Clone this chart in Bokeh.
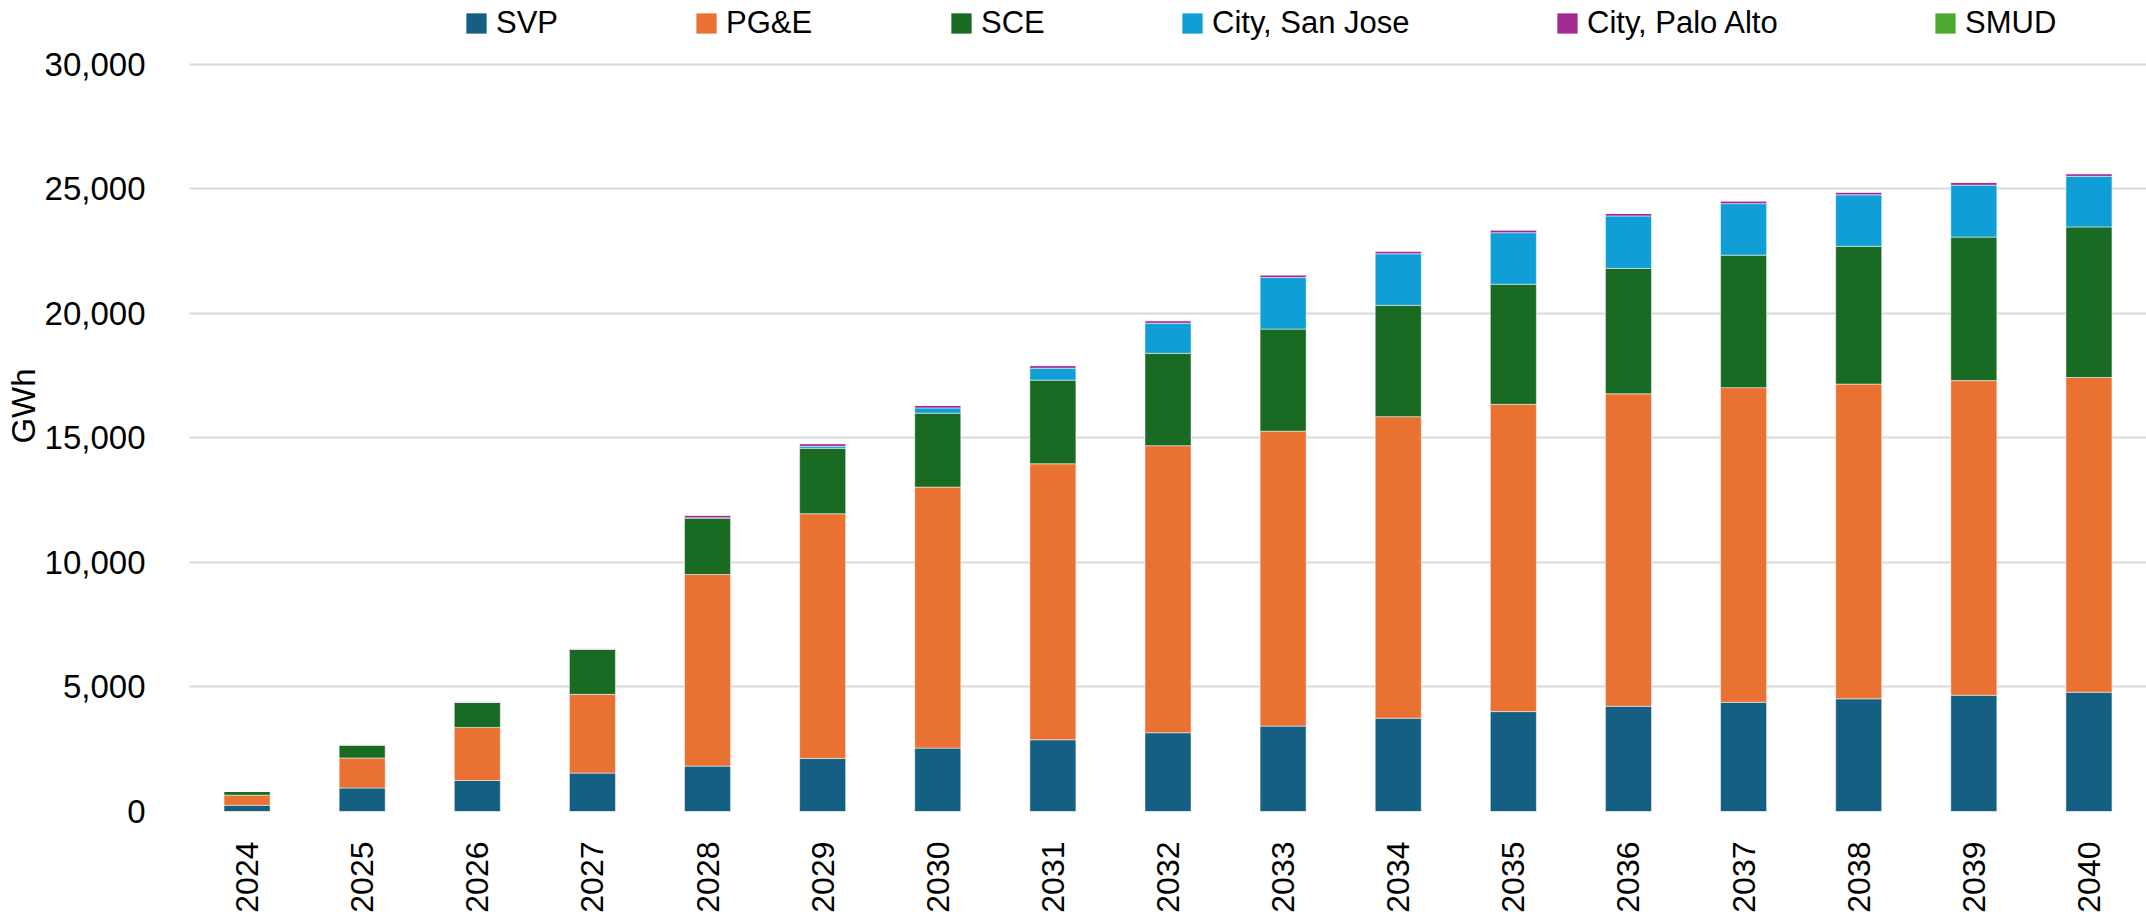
import math
from bokeh.plotting import figure
from bokeh.models import (Legend, LegendItem, NumeralTickFormatter, FixedTicker,
                          FactorRange, ColumnDataSource, Range1d)
from bokeh.embed import file_html
from bokeh.resources import INLINE

years = [str(y) for y in range(2024, 2041)]
svp = [250, 945, 1246, 1541, 1822, 2131, 2545, 2880, 3163, 3428, 3746, 4011, 4223, 4382, 4524, 4665, 4789]
pge = [405, 1205, 2131, 3162, 7692, 9822, 10478, 11079, 11521, 11839, 12104, 12334, 12546, 12634, 12634, 12634, 12634]
sce = [150, 520, 1005, 1809, 2265, 2626, 2968, 3358, 3710, 4099, 4471, 4824, 5036, 5319, 5530, 5760, 6043]
san_jose = [0, 0, 0, 0, 10, 81, 212, 477, 1202, 2068, 2067, 2067, 2103, 2067, 2068, 2085, 2032]
palo_alto = [0, 10, 20, 27, 100, 107, 95, 106, 106, 106, 106, 106, 100, 106, 106, 106, 106]
smud = [0, 0, 0, 0, 0, 0, 0, 0, 0, 0, 0, 0, 0, 0, 0, 0, 0]

series_names = ["SVP", "PG&E", "SCE", "City, San Jose", "City, Palo Alto", "SMUD"]
series_keys = ["svp", "pge", "sce", "sj", "pa", "smud"]
colors = ["#156082", "#E97132", "#196B24", "#0F9ED5", "#A02B93", "#4EA72E"]
y_ticks = [0, 5000, 10000, 15000, 20000, 25000, 30000]

source = ColumnDataSource(dict(years=years, svp=svp, pge=pge, sce=sce,
                               sj=san_jose, pa=palo_alto, smud=smud))

FONT = "Liberation Sans"
FS = "33px"

# frame reaches the top of the canvas so that the legend row (drawn inside it) is not clipped;
# the y scale keeps 0 -> 30,000 over the lower 747 px of the frame
p = figure(frame_width=1957, frame_height=811, output_backend="svg", toolbar_location=None,
           x_range=FactorRange(*years, range_padding=0.0),
           y_range=Range1d(0, 32557),
           min_border_left=189, min_border_right=0, min_border_top=0, min_border_bottom=101)
p.outline_line_color = None
p.background_fill_color = "white"
p.border_fill_color = "white"

rs = p.vbar_stack(series_keys, x="years", width=0.4, color=colors, source=source,
                  line_color="white", line_width=1, line_alpha=0.5)

legend_x = [274, 504, 759, 990, 1365, 1743]
for name, r, lx in zip(series_names, rs, legend_x):
    lg = Legend(items=[LegendItem(label=name, renderers=[r])],
                orientation="horizontal", location=(lx, 770),
                glyph_width=26, glyph_height=26, label_height=26, label_standoff=7, spacing=0,
                padding=0, margin=0, border_line_color=None, background_fill_alpha=0,
                label_text_font=FONT, label_text_font_size="31px", label_text_color="black")
    p.add_layout(lg, "center")

p.yaxis.ticker = FixedTicker(ticks=y_ticks)
p.yaxis.formatter = NumeralTickFormatter(format="0,0")
p.yaxis.axis_line_color = None
p.yaxis.major_tick_line_color = None
p.yaxis.minor_tick_line_color = None
p.yaxis.major_label_standoff = 38
p.yaxis.axis_label = "GWh"
p.yaxis.axis_label_standoff = 0
p.yaxis.axis_label_text_font = FONT
p.yaxis.axis_label_text_font_size = FS
p.yaxis.axis_label_text_font_style = "normal"
p.yaxis.axis_label_text_color = "black"
p.yaxis.major_label_text_font = FONT
p.yaxis.major_label_text_font_size = FS
p.yaxis.major_label_text_color = "black"

p.xaxis.axis_line_color = None
p.xaxis.major_tick_line_color = None
p.xaxis.minor_tick_line_color = None
p.xaxis.major_label_orientation = math.pi / 2
p.xaxis.major_label_standoff = 24
p.xaxis.major_label_text_font = FONT
p.xaxis.major_label_text_font_size = "32px"
p.xaxis.major_label_text_color = "black"

p.xgrid.grid_line_color = None
p.ygrid.grid_line_color = "#D9D9D9"
p.ygrid.grid_line_width = 2

open("out.html", "w").write(file_html(p, INLINE))
